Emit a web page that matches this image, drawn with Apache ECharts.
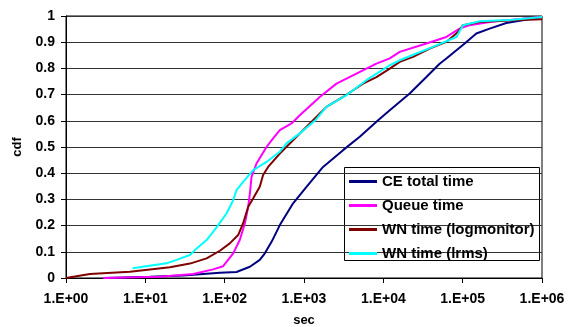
<!DOCTYPE html>
<html>
<head>
<meta charset="utf-8">
<script src="https://cdn.jsdelivr.net/npm/echarts@6/dist/echarts.min.js"></script>
<style>html,body{margin:0;padding:0;background:#fff}#c{width:575px;height:327px}</style>
</head>
<body>
<div id="c"></div>
<script>
var seriesNames = ['CE total time', 'Queue time', 'WN time (logmonitor)', 'WN time (lrms)'];
var seriesColors = ['#000080', '#ff00ff', '#800000', '#00ffff'];
var xTickLabels = ['1.E+00', '1.E+01', '1.E+02', '1.E+03', '1.E+04', '1.E+05', '1.E+06'];
var yTickLabels = ['0', '0.1', '0.2', '0.3', '0.4', '0.5', '0.6', '0.7', '0.8', '0.9', '1'];

var ceSec = [3.0, 11.4, 30, 87, 141, 208, 277, 321, 390, 496, 729, 1075, 1738, 3107, 5044, 8590, 12050, 21500, 34900, 51300, 62300, 106000, 148700, 218800, 355000, 1000000];
var ceCdf = [0, 0.005, 0.01, 0.02, 0.023, 0.043, 0.069, 0.094, 0.138, 0.202, 0.285, 0.348, 0.424, 0.488, 0.539, 0.602, 0.640, 0.704, 0.767, 0.818, 0.838, 0.895, 0.933, 0.952, 0.973, 0.996];

var queueSec = [2.95, 15.3, 40.1, 71.6, 95.7, 128, 155, 180, 198, 208, 218, 252, 337, 408, 496, 696, 885, 1581, 2566, 4581, 6124, 8185, 12050, 16100, 34900, 62300, 91600, 122400, 218800, 574000, 1000000];
var queueCdf = [0, 0.005, 0.015, 0.033, 0.045, 0.094, 0.145, 0.209, 0.272, 0.323, 0.386, 0.437, 0.5, 0.533, 0.564, 0.59, 0.621, 0.691, 0.742, 0.78, 0.799, 0.818, 0.838, 0.863, 0.895, 0.92, 0.952, 0.965, 0.977, 0.99, 0.996];

var logmonSec = [1, 2.0, 6.4, 20.4, 36.5, 59.2, 87, 116, 148, 171, 198, 229, 277, 305, 353, 496, 805, 1303, 1920, 3107, 5550, 8185, 12050, 16100, 23700, 38400, 62300, 87300, 101000, 163700, 430000, 1000000];
var logmonCdf = [0, 0.015, 0.024, 0.041, 0.055, 0.075, 0.104, 0.132, 0.164, 0.209, 0.272, 0.304, 0.348, 0.393, 0.424, 0.475, 0.539, 0.602, 0.653, 0.691, 0.742, 0.767, 0.799, 0.825, 0.844, 0.876, 0.901, 0.939, 0.965, 0.977, 0.984, 0.988];

var lrmsSec = [6.9, 18.5, 24.8, 36.5, 44.3, 59.2, 79.1, 106, 128, 141, 171, 229, 337, 496, 602, 885, 1368, 1920, 3430, 6124, 12050, 16100, 26100, 42300, 83300, 101000, 163700, 430000, 1000000];
var lrmsCdf = [0.037, 0.056, 0.069, 0.088, 0.113, 0.145, 0.193, 0.247, 0.297, 0.335, 0.367, 0.412, 0.443, 0.482, 0.514, 0.552, 0.6, 0.653, 0.698, 0.755, 0.812, 0.831, 0.857, 0.882, 0.92, 0.965, 0.98, 0.986, 0.996];

function pairs(xs, ys) { return xs.map(function (x, i) { return [x, ys[i]]; }); }
var allData = [pairs(ceSec, ceCdf), pairs(queueSec, queueCdf), pairs(logmonSec, logmonCdf), pairs(lrmsSec, lrmsCdf)];

var font = 'Liberation Sans, Arial, sans-serif';
var chart = echarts.init(document.getElementById('c'), null, {renderer: 'canvas'});
chart.setOption({
  animation: false,
  backgroundColor: '#fff',
  grid: {left: 66, right: 33, top: 16, bottom: 49, containLabel: false, outerBoundsMode: 'none',
    show: true, borderColor: '#000', borderWidth: 1, backgroundColor: '#fff'},
  xAxis: {
    type: 'log', logBase: 10, min: 1, max: 1000000,
    name: 'sec', nameLocation: 'middle', nameGap: 36,
    nameTextStyle: {fontFamily: font, fontWeight: 'bold', fontSize: 13, color: '#000'},
    axisLine: {lineStyle: {color: '#000', width: 1}},
    axisTick: {show: true, length: 5, lineStyle: {color: '#000'}},
    splitLine: {show: false},
    minorTick: {show: false},
    axisLabel: {margin: 14, fontFamily: font, fontWeight: 'bold', fontSize: 14, color: '#000',
      formatter: function (v, i) { return xTickLabels[Math.round(Math.log10(v))]; }}
  },
  yAxis: {
    type: 'value', min: 0, max: 1, interval: 0.1,
    name: 'cdf', nameLocation: 'middle', nameGap: 42, nameRotate: 90,
    nameTextStyle: {fontFamily: font, fontWeight: 'bold', fontSize: 13, color: '#000'},
    axisLine: {show: true, lineStyle: {color: '#000', width: 1}},
    axisTick: {show: true, length: 5, lineStyle: {color: '#000'}},
    splitLine: {show: true, lineStyle: {color: '#333', width: 1}},
    axisLabel: {margin: 11, fontFamily: font, fontWeight: 'bold', fontSize: 14, color: '#000',
      formatter: function (v) { return yTickLabels[Math.round(v * 10)]; }}
  },
  legend: {
    orient: 'vertical', left: 349, top: 174, padding: 0,
    itemWidth: 28, itemHeight: 3, itemGap: 9, icon: 'rect',
    textStyle: {fontFamily: font, fontWeight: 'bold', fontSize: 15, color: '#000'},
    data: seriesNames
  },
  graphic: [{type: 'rect', left: 344, top: 167, z: 0, zlevel: 0,
    shape: {width: 195, height: 93}, style: {fill: '#fff', stroke: '#000', lineWidth: 1}}],
  series: allData.map(function (d, i) {
    return {name: seriesNames[i], type: 'line', data: d, symbol: 'none', smooth: false,
      lineStyle: {color: seriesColors[i], width: 2}, itemStyle: {color: seriesColors[i]}, z: 2 + i};
  })
});
</script>
</body>
</html>
